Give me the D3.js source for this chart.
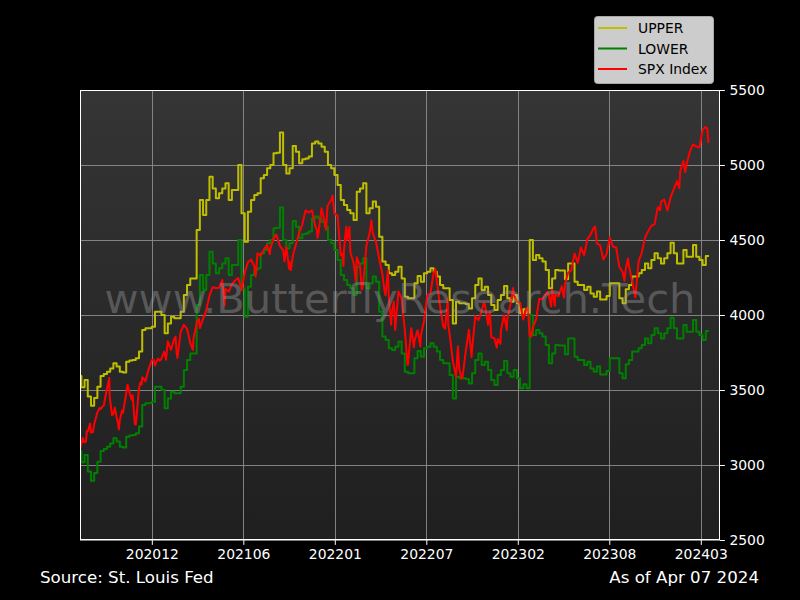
<!DOCTYPE html>
<html><head><meta charset="utf-8">
<script src="https://cdn.jsdelivr.net/npm/d3@7"></script>
<style>html,body{margin:0;padding:0;background:#000;} svg{display:block;}</style>
</head><body>
<svg id="chart" width="800" height="600"></svg>
<script>
// ---- data ----
const weekDates = d3.timeFriday.range(new Date(2020,5,26), new Date(2024,3,6));
const upperValues = [3593,3518,3567,3456,3395,3447,3522,3593,3607,3622,
 3644,3678,3656,3622,3616,3689,3696,3700,3711,3756,
 3900,3911,3911,3922,4022,4022,4000,3878,3944,3989,
 3978,3978,4022,4133,4200,4244,4244,4567,4767,4667,
 4767,4922,4844,4778,4811,4844,4878,4767,4833,4833,
 5000,4678,4489,4689,4767,4800,4811,4911,4933,4978,
 5000,5078,5082,5216,5000,4944,4978,5127,5089,5011,
 5038,5044,5056,5144,5156,5144,5122,5089,5000,4978,
 4933,4867,4767,4733,4700,4678,4633,4822,4844,4878,
 4678,4711,4756,4722,4522,4356,4333,4278,4267,4289,
 4322,4244,4122,4111,4111,4211,4260,4222,4278,4289,
 4311,4289,4256,4200,4178,4178,4100,3944,4089,4078,
 4078,4073,4044,4111,4200,4244,4167,4189,4133,4067,
 4033,4100,4133,4193,4111,4089,4133,4078,4011,4038,
 4011,4500,4367,4400,4378,4356,4300,4178,4244,4300,
 4296,4296,4238,4344,4344,4222,4200,4200,4167,4189,
 4144,4122,4156,4104,4104,4127,4211,4211,4211,4111,
 4078,4171,4200,4256,4256,4278,4300,4344,4311,4367,
 4411,4378,4344,4378,4411,4482,4411,4344,4344,4433,
 4389,4389,4467,4389,4367,4333,4393,4393];
const lowerValues = [3093,3018,3067,2956,2895,2947,3022,3093,3107,3122,
 3144,3178,3156,3122,3116,3189,3196,3200,3211,3256,
 3400,3411,3411,3422,3522,3522,3500,3378,3444,3489,
 3478,3478,3522,3633,3700,3744,3744,4067,4267,4167,
 4267,4422,4344,4278,4311,4344,4378,4267,4333,4333,
 4500,4178,3989,4189,4267,4300,4311,4411,4433,4478,
 4500,4578,4582,4716,4500,4444,4478,4627,4589,4511,
 4538,4544,4556,4644,4656,4644,4622,4589,4500,4478,
 4433,4367,4267,4233,4200,4178,4133,4322,4344,4378,
 4178,4211,4256,4222,4022,3856,3833,3778,3767,3789,
 3822,3744,3622,3611,3611,3711,3760,3722,3778,3789,
 3811,3789,3756,3700,3678,3678,3600,3444,3589,3578,
 3578,3573,3544,3611,3700,3744,3667,3689,3633,3567,
 3533,3600,3633,3693,3611,3589,3633,3578,3511,3538,
 3511,4000,3867,3900,3878,3856,3800,3678,3744,3800,
 3796,3796,3738,3844,3844,3722,3700,3700,3667,3689,
 3644,3622,3656,3604,3604,3627,3711,3711,3711,3611,
 3578,3671,3700,3756,3756,3778,3800,3844,3811,3867,
 3911,3878,3844,3878,3911,3982,3911,3844,3844,3933,
 3889,3889,3967,3889,3867,3833,3893,3893];
const spxDates = [
"2020-07-01","2020-07-02","2020-07-06","2020-07-09","2020-07-13","2020-07-15","2020-07-17","2020-07-22","2020-07-24","2020-07-28","2020-07-31",
"2020-08-07","2020-08-12","2020-08-14","2020-08-18","2020-08-21","2020-08-26","2020-08-28",
"2020-09-02","2020-09-03","2020-09-08","2020-09-11","2020-09-14","2020-09-18","2020-09-21","2020-09-23","2020-09-25","2020-09-30",
"2020-10-02","2020-10-09","2020-10-12","2020-10-16","2020-10-21","2020-10-23","2020-10-28","2020-10-30",
"2020-11-04","2020-11-06","2020-11-09","2020-11-12","2020-11-13","2020-11-18","2020-11-20","2020-11-27",
"2020-12-04","2020-12-08","2020-12-11","2020-12-15","2020-12-18","2020-12-21","2020-12-24","2020-12-31",
"2021-01-04","2021-01-08","2021-01-15","2021-01-22","2021-01-25","2021-01-27","2021-01-29",
"2021-02-05","2021-02-12","2021-02-19","2021-02-25","2021-02-26",
"2021-03-04","2021-03-05","2021-03-12","2021-03-17","2021-03-19","2021-03-26",
"2021-04-01","2021-04-09","2021-04-16","2021-04-23","2021-04-30",
"2021-05-07","2021-05-12","2021-05-14","2021-05-21","2021-05-28",
"2021-06-04","2021-06-11","2021-06-18","2021-06-25",
"2021-07-02","2021-07-09","2021-07-16","2021-07-19","2021-07-23","2021-07-30",
"2021-08-06","2021-08-13","2021-08-19","2021-08-20","2021-08-27",
"2021-09-02","2021-09-10","2021-09-17","2021-09-20","2021-09-24","2021-09-30",
"2021-10-01","2021-10-04","2021-10-08","2021-10-15","2021-10-22","2021-10-29",
"2021-11-05","2021-11-12","2021-11-19","2021-11-26","2021-11-30",
"2021-12-01","2021-12-03","2021-12-10","2021-12-17","2021-12-20","2021-12-23","2021-12-31",
"2022-01-03","2022-01-07","2022-01-14","2022-01-21","2022-01-24","2022-01-27","2022-01-28",
"2022-02-02","2022-02-04","2022-02-09","2022-02-11","2022-02-18","2022-02-23","2022-02-25",
"2022-03-04","2022-03-08","2022-03-11","2022-03-18","2022-03-25","2022-03-29",
"2022-04-01","2022-04-08","2022-04-14","2022-04-22","2022-04-26","2022-04-29",
"2022-05-04","2022-05-06","2022-05-11","2022-05-13","2022-05-17","2022-05-20","2022-05-27",
"2022-06-03","2022-06-10","2022-06-16","2022-06-17","2022-06-24","2022-06-30",
"2022-07-01","2022-07-08","2022-07-14","2022-07-15","2022-07-22","2022-07-29",
"2022-08-05","2022-08-12","2022-08-16","2022-08-19","2022-08-26",
"2022-09-02","2022-09-06","2022-09-12","2022-09-13","2022-09-16","2022-09-23","2022-09-30",
"2022-10-04","2022-10-07","2022-10-12","2022-10-14","2022-10-21","2022-10-28",
"2022-11-03","2022-11-04","2022-11-11","2022-11-18","2022-11-25","2022-11-30",
"2022-12-02","2022-12-09","2022-12-13","2022-12-16","2022-12-23","2022-12-28","2022-12-30",
"2023-01-05","2023-01-06","2023-01-13","2023-01-19","2023-01-20","2023-01-27",
"2023-02-02","2023-02-03","2023-02-10","2023-02-17","2023-02-24",
"2023-03-03","2023-03-06","2023-03-10","2023-03-13","2023-03-17","2023-03-24","2023-03-31",
"2023-04-06","2023-04-14","2023-04-18","2023-04-21","2023-04-26","2023-04-28",
"2023-05-04","2023-05-05","2023-05-12","2023-05-19","2023-05-24","2023-05-26",
"2023-06-02","2023-06-09","2023-06-16","2023-06-23","2023-06-30",
"2023-07-07","2023-07-14","2023-07-21","2023-07-28","2023-07-31",
"2023-08-04","2023-08-11","2023-08-18","2023-08-25",
"2023-09-01","2023-09-08","2023-09-15","2023-09-22","2023-09-29",
"2023-10-03","2023-10-06","2023-10-11","2023-10-13","2023-10-20","2023-10-27",
"2023-11-03","2023-11-10","2023-11-17","2023-11-24",
"2023-12-01","2023-12-08","2023-12-15","2023-12-20","2023-12-22","2023-12-29",
"2024-01-05","2024-01-12","2024-01-19","2024-01-26","2024-01-31",
"2024-02-02","2024-02-09","2024-02-13","2024-02-16","2024-02-23",
"2024-03-01","2024-03-08","2024-03-15","2024-03-22","2024-03-28",
"2024-04-01","2024-04-04"];
const spxValues = [
3115,3130,3180,3152,3155,3227,3225,3276,3216,3218,3271,
3351,3380,3373,3390,3397,3479,3508,
3580,3455,3332,3341,3383,3319,3281,3237,3298,3363,
3348,3477,3535,3484,3436,3465,3271,3270,
3443,3510,3551,3537,3585,3568,3558,3638,
3699,3702,3663,3695,3709,3695,3703,3756,
3701,3825,3768,3841,3855,3751,3714,
3887,3934,3907,3829,3811,
3768,3842,3943,3974,3913,3975,
4020,4129,4185,4180,4181,
4233,4063,4174,4156,4204,
4230,4247,4166,4281,
4352,4370,4327,4258,4412,4395,
4437,4468,4406,4442,4509,
4537,4459,4433,4358,4455,4308,
4357,4300,4391,4471,4545,4605,
4697,4683,4698,4595,4567,
4513,4538,4712,4620,4568,4726,4766,
4796,4677,4663,4398,4410,4327,4432,
4589,4501,4587,4418,4349,4225,4385,
4329,4170,4204,4463,4543,4632,
4546,4488,4393,4272,4175,4132,
4300,4123,3935,4024,4088,3901,4158,
4109,3901,3667,3675,3912,3785,
3825,3899,3790,3863,3962,4130,
4145,4280,4305,4228,4058,
3924,3909,4110,3932,3873,3693,3586,
3791,3640,3577,3583,3752,3901,
3720,3771,3993,3965,4026,4080,
4072,3934,4019,3852,3845,3783,3840,
3808,3895,3999,3899,3973,4071,
4180,4136,4090,4079,3970,
4046,4048,3862,3855,3917,3971,4109,
4105,4138,4154,4133,4056,4169,
4061,4136,4124,4192,4115,4205,
4282,4299,4410,4348,4450,
4399,4505,4536,4582,4589,
4478,4464,4370,4406,
4516,4457,4450,4320,4288,
4229,4309,4377,4327,4224,4117,
4358,4415,4514,4559,
4595,4604,4719,4698,4755,4770,
4697,4784,4840,4891,4846,
4959,5027,4953,5006,5089,
5137,5124,5117,5234,5254,
5243,5147];
const xTickDates = ["2020-12-04","2021-06-22","2022-01-08","2022-07-27","2023-02-12","2023-08-31","2024-03-18"];
const yTicks = [2500,3000,3500,4000,4500,5000,5500];
const seriesNames = ["UPPER","LOWER","SPX Index"];
const seriesColors = ["#bfbf00","#008000","#ff0000"];

// ---- layout ----
const parse = d3.timeParse("%Y-%m-%d");
const L = 80, R = 720, T = 90, B = 540;
const svg = d3.select("#chart");
const FONT = "DejaVu Sans, sans-serif";

svg.append("rect").attr("width",800).attr("height",600).attr("fill","#000");

const x = d3.scaleTime().domain([new Date(2020,5,30), new Date(2024,3,29)]).range([L,R]);
const y = d3.scaleLinear().domain([2500,5500]).range([B,T]);

const defs = svg.append("defs");
const grad = defs.append("linearGradient").attr("id","bg").attr("x1",0).attr("y1",0).attr("x2",0).attr("y2",1);
grad.append("stop").attr("offset","0%").attr("stop-color","#353535");
grad.append("stop").attr("offset","100%").attr("stop-color","#1f1f1f");
defs.append("clipPath").attr("id","clip").append("rect").attr("x",L).attr("y",T).attr("width",R-L).attr("height",B-T);

svg.append("rect").attr("x",L).attr("y",T).attr("width",R-L).attr("height",B-T).attr("fill","url(#bg)");

// grid
const tickDates = xTickDates.map(parse);
const grid = svg.append("g").attr("stroke","#8c8c8c").attr("stroke-width",0.9);
grid.selectAll("line.v").data(tickDates).join("line").attr("class","v")
  .attr("x1",d=>Math.round(x(d))+0.5).attr("x2",d=>Math.round(x(d))+0.5).attr("y1",T).attr("y2",B);
grid.selectAll("line.h").data(yTicks).join("line").attr("class","h")
  .attr("y1",d=>Math.round(y(d))+0.5).attr("y2",d=>Math.round(y(d))+0.5).attr("x1",L).attr("x2",R);

// lines
const plot = svg.append("g").attr("clip-path","url(#clip)");
const stepLine = d3.line().curve(d3.curveStepAfter).x(d=>x(d[0])).y(d=>y(d[1]));
const upperData = weekDates.map((d,i)=>[d, upperValues[i]]);
const lowerData = weekDates.map((d,i)=>[d, lowerValues[i]]);
const spxData = spxDates.map((d,i)=>[parse(d), spxValues[i]]);
plot.append("path").datum(upperData).attr("d",stepLine).attr("fill","none").attr("stroke",seriesColors[0]).attr("stroke-width",2).attr("stroke-linejoin","round");
plot.append("path").datum(lowerData).attr("d",stepLine).attr("fill","none").attr("stroke",seriesColors[1]).attr("stroke-width",2).attr("stroke-linejoin","round");
const spxLine = d3.line().x(d=>x(d[0])).y(d=>y(d[1]));
plot.append("path").datum(spxData).attr("d",spxLine).attr("fill","none").attr("stroke",seriesColors[2]).attr("stroke-width",2).attr("stroke-linejoin","round");

// frame
svg.append("rect").attr("x",L+0.5).attr("y",T+0.5).attr("width",R-L-1).attr("height",B-T-1)
  .attr("fill","none").attr("stroke","#fff").attr("stroke-width",1);

// axes
const yAxis = d3.axisRight(y).tickValues(yTicks).tickSize(4.9).tickPadding(4.5).tickFormat(d3.format("d"));
const gy = svg.append("g").attr("transform",`translate(${R},0)`).call(yAxis);
const xAxis = d3.axisBottom(x).tickValues(tickDates).tickSize(4.9).tickPadding(4.5).tickFormat(d3.timeFormat("%Y%m"));
const gx = svg.append("g").attr("transform",`translate(0,${B})`).call(xAxis);
[gx,gy].forEach(g=>{
  g.select(".domain").remove();
  g.selectAll(".tick line").attr("stroke","#fff");
  g.selectAll(".tick text").attr("fill","#fff").style("font-family",FONT).style("font-size","13.9px");
});

// watermark
svg.append("text").attr("x",400).attr("y",313).attr("text-anchor","middle")
  .style("font-family",FONT).style("font-size","41.7px").attr("fill","#9a9a9a").attr("fill-opacity",0.42)
  .text("www.ButterflyResearch.Tech");

// legend
const lg = svg.append("g");
lg.append("rect").attr("x",594.5).attr("y",16.5).attr("width",119).attr("height",67).attr("rx",3)
  .attr("fill","#cccccc").attr("stroke","#a8a8a8").attr("stroke-width",1);
const rows = [28,48.5,69];
seriesNames.forEach((n,i)=>{
  lg.append("line").attr("x1",598).attr("x2",627).attr("y1",rows[i]).attr("y2",rows[i]).attr("stroke",seriesColors[i]).attr("stroke-width",2);
  lg.append("text").attr("x",638).attr("y",rows[i]+5).style("font-family",FONT).style("font-size","13.9px").attr("fill","#000").text(n);
});

// footer
svg.append("text").attr("x",40).attr("y",583).style("font-family",FONT).style("font-size","16.67px").attr("fill","#fff").text("Source: St. Louis Fed");
svg.append("text").attr("x",759).attr("y",583).attr("text-anchor","end").style("font-family",FONT).style("font-size","16.67px").attr("fill","#fff").text("As of Apr 07 2024");
</script>
</body></html>
